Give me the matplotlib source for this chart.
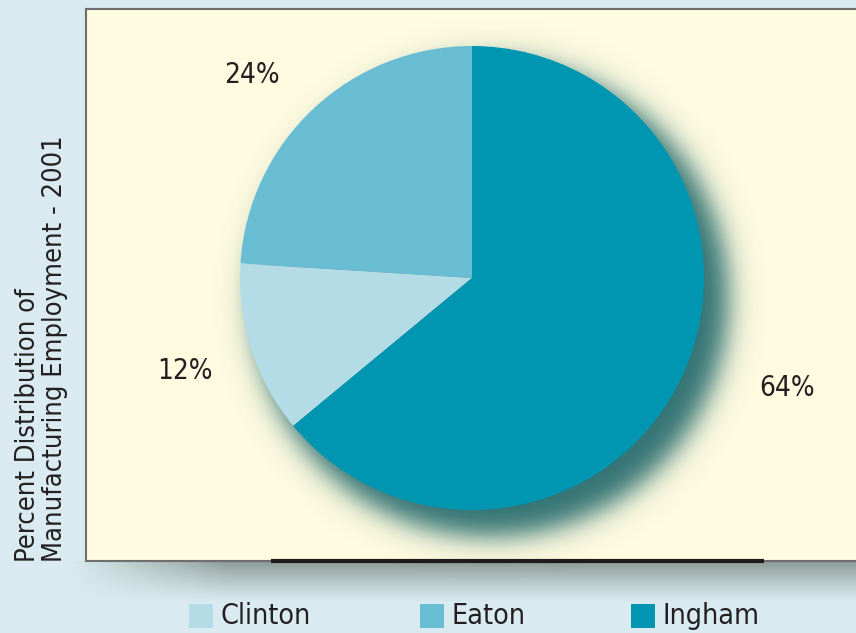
import numpy as np
import matplotlib.pyplot as plt
from matplotlib.patches import Rectangle

# data
categories = ['Clinton', 'Eaton', 'Ingham']
shares = [12, 24, 64]
colors = ['#b3dce6', '#68bdd2', '#0096b2']
ylabel = 'Percent Distribution of\nManufacturing Employment - 2001'

plt.rcParams['font.family'] = ['DejaVu Sans']
plt.rcParams['font.stretch'] = 'condensed'
W, H = 856, 633
fig = plt.figure(figsize=(W / 100, H / 100), dpi=100)
fig.patch.set_facecolor('#d9ebf0')
ax = fig.add_axes([0, 0, 1, 1])
ax.set_xlim(0, W)
ax.set_ylim(0, H)
ax.set_aspect('equal')
ax.axis('off')

# panel shadow below the yellow panel
gy = np.linspace(0, 1, 50)[:, None]
gx = np.linspace(0, 1, 400)[None, :]
alpha = np.clip(1 - gy, 0, 1) ** 1.2 * np.clip(gx * 5, 0, 1)
shadow = np.zeros((50, 400, 4))
shadow[..., :3] = [0.55, 0.61, 0.59]
shadow[..., 3] = alpha
ax.imshow(shadow, extent=(70, W, H - 603, H - 561), origin='upper', aspect='auto', zorder=1)

# yellow panel
ax.add_patch(Rectangle((86, H - 561), W, 552, facecolor='#fefbe0', edgecolor='#6e6e6e', lw=1.5, zorder=2))
ax.plot([271, 764], [H - 561, H - 561], color='#1e1a18', lw=3, zorder=3, solid_capstyle='butt')

# pie shadow
cx, cy, R = 472, H - 278, 232
yy, xx = np.mgrid[0:H, 0:W]
d = np.hypot(xx - (cx + 18), (H - yy) - (cy - 20))
sa = 0.95 / (1 + np.exp((d - (R + 6)) / 8))
ps = np.zeros((H, W, 4))
ps[..., :3] = [0.15, 0.42, 0.43]
ps[..., 3] = sa
ax.imshow(ps, extent=(0, W, 0, H), origin='upper', zorder=3)

# pie: Eaton, Clinton, Ingham counter-clockwise from top
order = [1, 0, 2]
wedges, _ = ax.pie([shares[i] for i in order], colors=[colors[i] for i in order],
                   startangle=90, counterclock=True, center=(cx, cy), radius=R,
                   wedgeprops=dict(linewidth=0), frame=True)
for w in wedges:
    w.set_zorder(4)
ax.set_xlim(0, W)
ax.set_ylim(0, H)
ax.axis('off')

# percentage labels (per category: Clinton, Eaton, Ingham)
label_dist = [1.30, 1.29, 1.44]
label_shift = [0, 4, 6]
for w, i in zip(wedges, order):
    mid = np.deg2rad((w.theta1 + w.theta2) / 2 + label_shift[i])
    ax.text(cx + label_dist[i] * R * np.cos(mid), cy + label_dist[i] * R * np.sin(mid),
            f'{shares[i]}%', ha='center', va='center', fontsize=20, color='#231f20', zorder=5)

# y label
ax.text(42, H - 562, ylabel, rotation=90, ha='center', va='bottom', multialignment='left',
        fontsize=19.5, color='#231f20', linespacing=1.05, zorder=5)

# legend
legend_x = [189, 420, 631]
for i, name in enumerate(categories):
    ax.add_patch(Rectangle((legend_x[i], H - 628), 24, 24, facecolor=colors[i], lw=0, zorder=5))
    ax.text(legend_x[i] + 32, H - 616, name, ha='left', va='center', fontsize=20.5,
            color='#231f20', zorder=5)

fig.savefig('out.png', dpi=100, facecolor=fig.get_facecolor())
